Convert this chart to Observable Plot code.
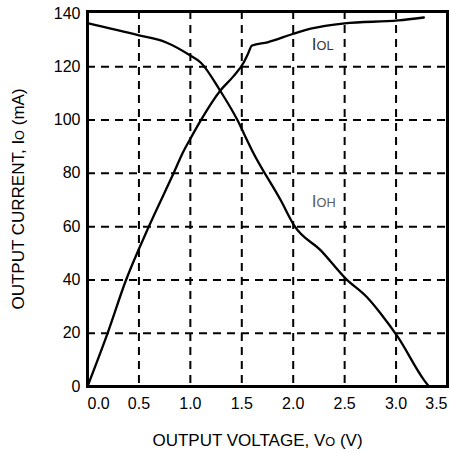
<!DOCTYPE html>
<html>
<head>
<meta charset="utf-8">
<script src="https://cdn.jsdelivr.net/npm/d3@7"></script>
<script src="https://cdn.jsdelivr.net/npm/@observablehq/plot@0.6"></script>
<style>
  html, body { margin: 0; padding: 0; background: #fff; }
  #chart svg { display: block; }
</style>
</head>
<body>
<div id="chart"></div>
<script>
// ---- data ----
const iolV = [0, 0.2, 0.37, 0.59, 0.84, 0.93, 1.0, 1.10, 1.29, 1.42, 1.52, 1.556, 1.60, 1.75, 2.0, 2.17, 2.5, 3.02, 3.27];
const iolI = [0, 20.5, 39.5, 59.5, 80.3, 88, 93, 99.8, 111, 116.5, 121.7, 124.5, 128, 129.2, 132.4, 134.3, 136.3, 137.4, 138.5];

const iohV = [0, 0.5, 0.76, 1.0, 1.10, 1.29, 1.46, 1.52, 1.60, 1.88, 2.01, 2.27, 2.51, 2.72, 2.85, 3.02, 3.27, 3.32];
const iohI = [136.4, 131.8, 129.2, 124.2, 121.6, 111, 99.8, 95, 88.6, 69.8, 60.4, 51, 40.5, 33.4, 27.4, 18.4, 2.5, 0];

const xTicks = [0, 0.5, 1.0, 1.5, 2.0, 2.5, 3.0, 3.5];
const yTicks = [0, 20, 40, 60, 80, 100, 120, 140];
const xGrid = [0.5, 1.0, 1.5, 2.0, 2.5, 3.0];
const yGrid = [20, 40, 60, 80, 100, 120];

const xLabelParts = [["OUTPUT VOLTAGE, V", false], ["O", true], [" (V)", false]];
const yLabelParts = [["OUTPUT CURRENT, I", false], ["O", true], [" (mA)", false]];
const curveLabels = [
  {v: 2.18, i: 128.4, parts: [["I", false], ["OL", true]], color: "#333"},
  {v: 2.18, i: 69.3, parts: [["I", false], ["OH", true]], color: "#5a5a5a"}
];

const join = parts => parts.map(p => p[0]).join("");
const iol = iolV.map((v, k) => ({v, i: iolI[k]}));
const ioh = iohV.map((v, k) => ({v, i: iohI[k]}));
const fmt = d3.format(".1f");

const plot = Plot.plot({
  width: 450,
  height: 453,
  marginLeft: 87,
  marginRight: 3,
  marginTop: 11,
  marginBottom: 67,
  style: {fontFamily: "'Liberation Sans', Arial, sans-serif", fontSize: "16px", background: "#fff", color: "#000"},
  x: {domain: [0, 3.5], axis: null},
  y: {domain: [0, 140.75], axis: null},
  marks: [
    Plot.ruleX(xGrid, {stroke: "#000", strokeWidth: 2, strokeDasharray: "8,6"}),
    Plot.ruleY(yGrid, {stroke: "#000", strokeWidth: 2, strokeDasharray: "8,6"}),
    Plot.line(iol, {x: "v", y: "i", stroke: "#000", strokeWidth: 2.3, curve: "monotone-x"}),
    Plot.line(ioh, {x: "v", y: "i", stroke: "#000", strokeWidth: 2.3, curve: "monotone-x"}),
    Plot.frame({stroke: "#000", strokeWidth: 3}),
    Plot.axisY(yTicks, {tickSize: 0, tickPadding: 7, label: null, fontSize: 16, fill: "#000"}),
    Plot.axisX(xTicks.slice(0, 1), {tickSize: 0, tickPadding: 11, label: null, fontSize: 16, textAnchor: "start", tickFormat: fmt, fill: "#000"}),
    Plot.axisX(xTicks.slice(1, -1), {tickSize: 0, tickPadding: 11, label: null, fontSize: 16, tickFormat: fmt, fill: "#000"}),
    Plot.axisX(xTicks.slice(-1), {tickSize: 0, tickPadding: 11, label: null, fontSize: 16, textAnchor: "end", tickFormat: fmt, fill: "#000"}),
    Plot.text([join(xLabelParts)], {frameAnchor: "bottom", textAnchor: "middle", lineAnchor: "middle", dy: 54, dx: -10, fontSize: 17, fill: "#000"}),
    Plot.text([join(yLabelParts)], {frameAnchor: "left", textAnchor: "middle", lineAnchor: "middle", dx: -69, rotate: -90, fontSize: 17, fill: "#000"}),
    Plot.text(curveLabels, {x: "v", y: "i", text: d => join(d.parts), textAnchor: "start", fontSize: 17, fill: d => d.color})
  ]
});

// rebuild labels with small "subscript" letters
const partsByText = new Map();
partsByText.set(join(xLabelParts), xLabelParts);
partsByText.set(join(yLabelParts), yLabelParts);
curveLabels.forEach(d => partsByText.set(join(d.parts), d.parts));
d3.select(plot).selectAll("text").each(function () {
  const parts = partsByText.get(this.textContent);
  if (!parts) return;
  const t = d3.select(this);
  t.text(null);
  parts.forEach(([s, small]) => {
    const sp = t.append("tspan").text(s);
    if (small) sp.attr("font-size", "75%");
  });
});

document.getElementById("chart").appendChild(plot);
</script>
</body>
</html>
